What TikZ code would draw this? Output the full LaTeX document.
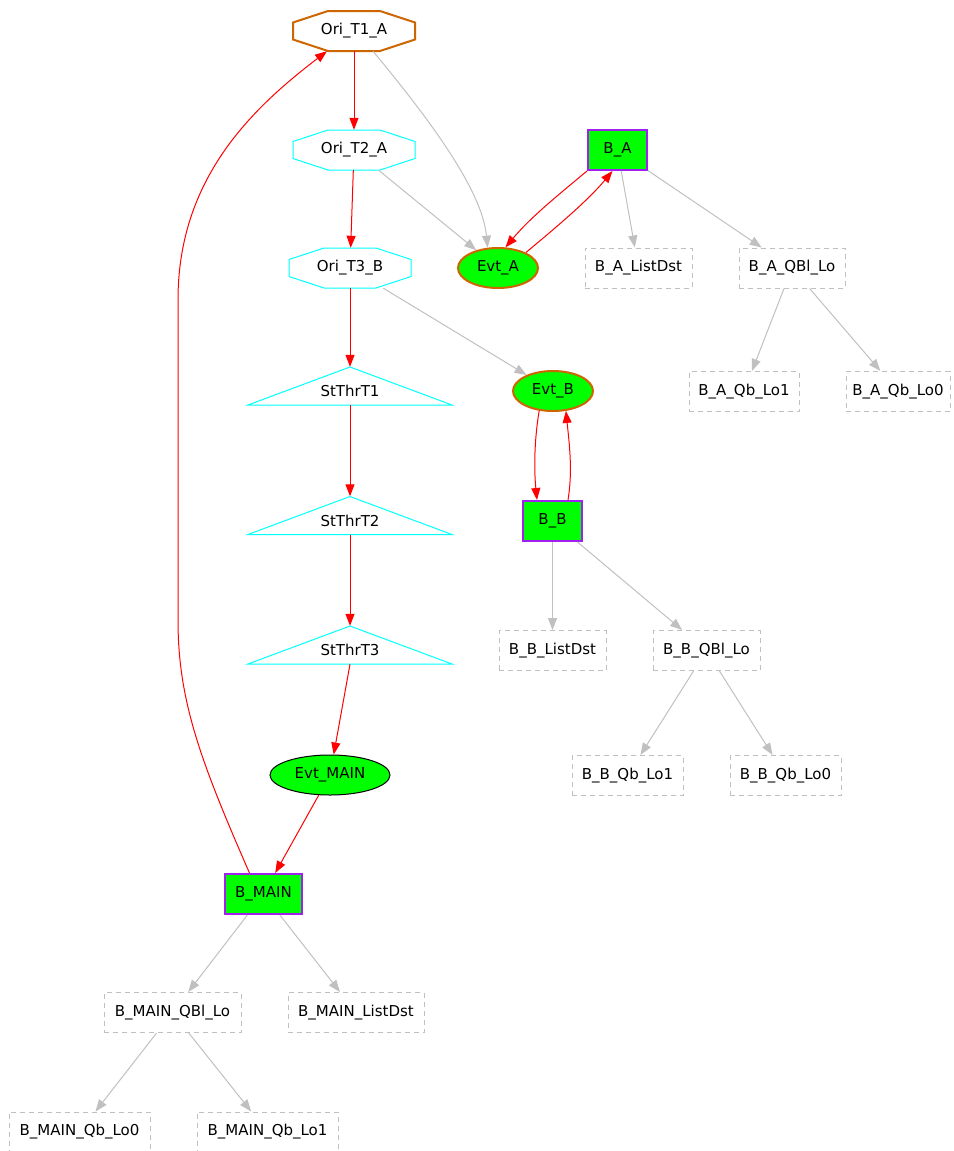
\documentclass[tikz,border=0pt]{standalone}
\usepackage{fontspec}
\setmainfont{DejaVu Sans}
\usetikzlibrary{arrows.meta,shapes.geometric,calc}
\definecolor{ggreen}{RGB}{0,255,0}
\definecolor{gcyan}{RGB}{0,255,255}
\definecolor{gorange}{RGB}{205,102,0}
\definecolor{gpurple}{RGB}{160,32,240}
\definecolor{ggray}{RGB}{192,192,192}
\definecolor{gred}{RGB}{255,0,0}

% outline of an octagon around a (borderless) node
\newcommand\octagonfor[2]{%
  \draw[#2,shift={(#1.center)}] (-26,-20) -- (26,-20) -- (61,-8.5) -- (61,8.5)
    -- (26,20) -- (-26,20) -- (-61,8.5) -- (-61,-8.5) -- cycle;}
% outline of a triangle around a (borderless) node
\newcommand\trianglefor[1]{%
  \draw[gcyan,line width=1pt,shift={(#1.center)}] (0,-19) -- (102,19) -- (-102,19) -- cycle;}

\begin{document}
\begin{tikzpicture}[x=1pt,y=-1pt,
  every node/.style={font=\fontsize{15}{18}\selectfont, inner sep=0pt, text=black},
  octo/.style={minimum width=122pt, minimum height=40pt},
  tri/.style={minimum width=204pt, minimum height=38pt, text height=29.5pt, text depth=8.5pt},
  evt/.style={ellipse, fill=ggreen, minimum height=40pt, minimum width=80pt},
  blk/.style={fill=ggreen, draw=gpurple, line width=2pt, minimum height=40pt, minimum width=59pt},
  dbox/.style={draw=ggray, dash pattern=on 5pt off 4pt, line width=1pt, minimum height=40pt},
  redge/.style={draw=gred, line width=1pt, -{Triangle[length=12pt,width=9pt]}},
  gedge/.style={draw=ggray, line width=1pt, -{Triangle[length=12pt,width=9pt]}}]

\useasboundingbox (0,0) rectangle (953,1151);

% main chain
\node[octo] (o1) at (354,31) {Ori\_T1\_A};
\node[octo] (o2) at (354,150) {Ori\_T2\_A};
\node[octo] (o3) at (350,268) {Ori\_T3\_B};
\node[tri] (t1) at (350,386) {StThrT1};
\node[tri] (t2) at (350,515.5) {StThrT2};
\node[tri] (t3) at (350,645) {StThrT3};
\node[evt, draw=black, line width=1pt, minimum width=120pt] (em) at (330,775) {Evt\_MAIN};
\node[blk, minimum width=77pt] (bm) at (263.5,894) {B\_MAIN};
\node[dbox, minimum width=137pt] (bmq) at (172.5,1012.5) {B\_MAIN\_QBl\_Lo};
\node[dbox, minimum width=136pt] (bml) at (356,1012.5) {B\_MAIN\_ListDst};
\node[dbox, minimum width=141pt] (bm0) at (79.5,1132) {B\_MAIN\_Qb\_Lo0};
\node[dbox, minimum width=141pt] (bm1) at (267.5,1132) {B\_MAIN\_Qb\_Lo1};

% branch A
\node[evt, draw=gorange, line width=2pt] (ea) at (498,268) {Evt\_A};
\node[blk] (ba) at (617.5,150) {B\_A};
\node[dbox, minimum width=107pt] (bal) at (638.5,268) {B\_A\_ListDst};
\node[dbox, minimum width=106pt] (baq) at (792,268) {B\_A\_QBl\_Lo};
\node[dbox, minimum width=110pt] (ba1) at (744,391.5) {B\_A\_Qb\_Lo1};
\node[dbox, minimum width=104pt] (ba0) at (898,391.5) {B\_A\_Qb\_Lo0};

% branch B
\node[evt, draw=gorange, line width=2pt] (eb) at (553,391) {Evt\_B};
\node[blk] (bb) at (552.5,521) {B\_B};
\node[dbox, minimum width=107pt] (bbl) at (552.5,650.5) {B\_B\_ListDst};
\node[dbox, minimum width=107pt] (bbq) at (706.5,650.5) {B\_B\_QBl\_Lo};
\node[dbox, minimum width=111pt] (bb1) at (627.5,775.5) {B\_B\_Qb\_Lo1};
\node[dbox, minimum width=111pt] (bb0) at (785.5,775.5) {B\_B\_Qb\_Lo0};

% shape outlines
\octagonfor{o1}{gorange,line width=2pt}
\octagonfor{o2}{gcyan,line width=1pt}
\octagonfor{o3}{gcyan,line width=1pt}
\trianglefor{t1}
\trianglefor{t2}
\trianglefor{t3}

% red control flow
\draw[redge] (o1) -- (o2);
\draw[redge] (o2) -- (o3);
\draw[redge] (o3) -- (t1.north);
\draw[redge] (t1.south) -- (t2.north);
\draw[redge] (t2.south) -- (t3.north);
\draw[redge] (t3.south) -- (em);
\draw[redge] (em) -- (bm);
\draw[redge] ([xshift=-14pt]bm.north) .. controls (200,760) and (178,700) .. (178,620)
  -- (178,300) .. controls (178,180) and (250,110) .. ([xshift=-27pt]o1.south);
\draw[redge] (ba.south west) .. controls +(-30,25) and +(25,-30) .. (ea.70);
\draw[redge] (ea.29) .. controls +(30,-25) and +(-25,30) .. ([xshift=-5pt]ba.south);
\draw[redge] (eb.235) .. controls +(-5,30) and +(-3,-30) .. ([xshift=-15.5pt]bb.north);
\draw[redge] ([xshift=15.5pt]bb.north) .. controls +(5,-30) and +(3,30) .. (eb.303);

% grey links
\draw[gedge] ([xshift=19pt]o1.south) .. controls (430,120) and (482,190) .. (ea.117);
\draw[gedge] (o2) -- (ea);
\draw[gedge] (o3) -- (eb);
\draw[gedge] (ba) -- (bal);
\draw[gedge] (ba) -- (baq);
\draw[gedge] (baq) -- (ba1);
\draw[gedge] (baq) -- (ba0);
\draw[gedge] (bb) -- (bbl);
\draw[gedge] (bb) -- (bbq);
\draw[gedge] (bbq) -- (bb1);
\draw[gedge] (bbq) -- (bb0);
\draw[gedge] (bm) -- (bmq);
\draw[gedge] (bm) -- (bml);
\draw[gedge] (bmq) -- (bm0);
\draw[gedge] (bmq) -- (bm1);
\end{tikzpicture}
\end{document}
